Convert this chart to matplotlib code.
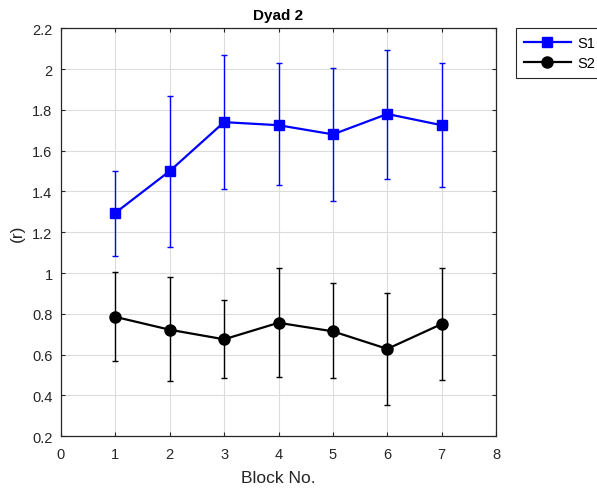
import matplotlib
matplotlib.use("Agg")
import matplotlib.pyplot as plt
import numpy as np

plt.rcParams['font.family'] = ['Liberation Sans', 'DejaVu Sans']

blocks = [1, 2, 3, 4, 5, 6, 7]
s1_mean = [1.295, 1.50, 1.74, 1.725, 1.68, 1.78, 1.725]
s1_upper = [1.50, 1.87, 2.07, 2.03, 2.005, 2.095, 2.03]
s1_lower = [1.085, 1.13, 1.41, 1.43, 1.355, 1.462, 1.423]
s2_mean = [0.785, 0.722, 0.675, 0.756, 0.714, 0.628, 0.750]
s2_upper = [1.006, 0.979, 0.866, 1.024, 0.949, 0.903, 1.024]
s2_lower = [0.570, 0.470, 0.483, 0.488, 0.483, 0.355, 0.477]
xticks = [0, 1, 2, 3, 4, 5, 6, 7, 8]
yticks = [0.2, 0.4, 0.6, 0.8, 1.0, 1.2, 1.4, 1.6, 1.8, 2.0, 2.2]
ytick_labels = ['0.2', '0.4', '0.6', '0.8', '1', '1.2', '1.4', '1.6', '1.8', '2', '2.2']

fig = plt.figure(figsize=(5.97, 4.89), dpi=100)
ax = fig.add_axes([0.102, 0.106, 0.729, 0.834])

def err(m, u, l):
    m = np.array(m); u = np.array(u); l = np.array(l)
    return [m - l, u - m]

c1 = ax.errorbar(blocks, s1_mean, yerr=err(s1_mean, s1_upper, s1_lower), color='#0000ff',
                 marker='s', markersize=7.5, linewidth=1.6, elinewidth=1.0, capsize=2.5,
                 capthick=1.0, label='S1', zorder=3)
c2 = ax.errorbar(blocks, s2_mean, yerr=err(s2_mean, s2_upper, s2_lower), color='black',
                 marker='o', markersize=8, linewidth=1.6, elinewidth=1.0, capsize=2.5,
                 capthick=1.0, label='S2', zorder=3)

ax.set_xlim(0, 8)
ax.set_ylim(0.2, 2.2)
ax.set_xticks(xticks)
ax.set_yticks(yticks)
ax.set_yticklabels(ytick_labels)
ax.grid(True, color='#dcdcdc', linewidth=0.8)
ax.set_axisbelow(True)
ax.tick_params(direction='in', length=3, colors='#262626', labelsize=10.5, top=True, right=True,
               labeltop=False, labelright=False)
ax.tick_params(axis='x', pad=8)
ax.tick_params(axis='y', pad=6)
for s in ax.spines.values():
    s.set_color('#262626')
    s.set_linewidth(0.9)

ax.set_title('Dyad 2', fontsize=11, fontweight='bold', pad=7)
ax.set_xlabel('Block No.', fontsize=12.5, color='#262626', labelpad=6)
ax.set_ylabel('(r)', fontsize=12.5, color='#262626', labelpad=5)

leg = fig.legend(handles=[c1.lines[0], c2.lines[0]], labels=['S1', 'S2'],
                 loc='upper left', bbox_to_anchor=(516/597, 1 - 29/489), fontsize=10.5,
                 frameon=True, fancybox=False, edgecolor='#262626', framealpha=1,
                 handlelength=3.2, borderpad=0.55, labelspacing=0.4, handletextpad=0.45,
                 borderaxespad=0)
leg.get_frame().set_linewidth(0.8)

fig.savefig('out.png', dpi=100)
